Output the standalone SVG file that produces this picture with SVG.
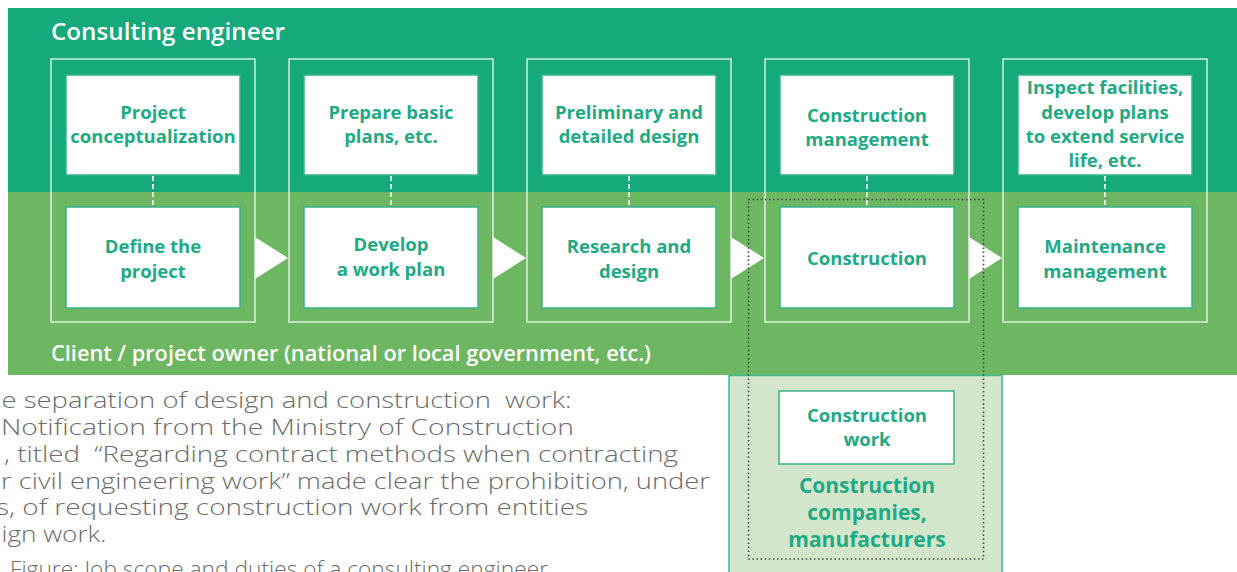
<svg xmlns="http://www.w3.org/2000/svg" width="1237" height="572" viewBox="0 0 1237 572">
<defs>
<style>
.frame{fill:none;stroke:#ffffff;stroke-opacity:0.85;stroke-width:1.4}
.box{fill:#ffffff;stroke:#36B38A;stroke-width:1.5}
.bt{font-family:"Open Sans","Noto Sans",sans-serif;font-weight:700;font-size:18.5px;fill:#1DAA84;text-anchor:middle}
.dash{stroke:#ffffff;stroke-width:1.6;stroke-dasharray:5 3;fill:none}
.tri{fill:#ffffff}
.hdr{font-family:"Open Sans","Noto Sans",sans-serif;font-weight:600;fill:#ffffff}
.body{font-family:"Open Sans","Noto Sans",sans-serif;font-weight:300;font-size:21.5px;fill:#6b6b6b}
.comp{font-family:"Open Sans","Noto Sans",sans-serif;font-weight:700;font-size:21px;fill:#1DAA84;text-anchor:middle}
</style>
</defs>
<g id="bands">
<rect x="8" y="8" width="1229" height="184" fill="#16A97B"/>
<rect x="8" y="192" width="1229" height="183" fill="#6DB662"/>
<text class="hdr" x="51" y="40" font-size="24" textLength="234" lengthAdjust="spacingAndGlyphs">Consulting engineer</text>
<text class="hdr" x="51" y="361" font-size="21.5" font-weight="500" textLength="600" lengthAdjust="spacingAndGlyphs">Client / project owner (national or local government, etc.)</text>
</g>
<g id="companies">
<rect x="729" y="375.5" width="273" height="210" fill="#D3E6CB" stroke="#3DB88F" stroke-width="1.5"/>
<text class="comp" x="867" y="493">Construction</text>
<text class="comp" x="867" y="520">companies,</text>
<text class="comp" x="867" y="547">manufacturers</text>
</g>
<g id="frames">
<rect class="frame" x="51" y="59" width="204" height="263"/>
<rect class="frame" x="289" y="59" width="204" height="263"/>
<rect class="frame" x="527" y="59" width="204" height="263"/>
<rect class="frame" x="765" y="59" width="204" height="263"/>
<rect class="frame" x="1003" y="59" width="204" height="263"/>
</g>
<g id="connectors">
<line class="dash" x1="153" y1="176" x2="153" y2="207"/>
<line class="dash" x1="391" y1="176" x2="391" y2="207"/>
<line class="dash" x1="629" y1="176" x2="629" y2="207"/>
<line class="dash" x1="867" y1="176" x2="867" y2="207"/>
<line class="dash" x1="1105" y1="176" x2="1105" y2="207"/>
<polygon class="tri" points="255,237 288,258 255,279"/>
<polygon class="tri" points="493,237 526,258 493,279"/>
<polygon class="tri" points="731,237 764,258 731,279"/>
<polygon class="tri" points="969,237 1002,258 969,279"/>
<rect x="748.5" y="199.5" width="235" height="359.5" fill="none" stroke="#444" stroke-width="1.6" stroke-dasharray="1.5 2.6"/>
</g>
<g id="n1a"><rect class="box" x="66" y="75" width="174" height="100"/><text class="bt" x="153" y="119">Project</text><text class="bt" x="153" y="143">conceptualization</text></g>
<g id="n1b"><rect class="box" x="66" y="207" width="174" height="101"/><text class="bt" x="153" y="253">Define the</text><text class="bt" x="153" y="278">project</text></g>
<g id="n2a"><rect class="box" x="304" y="75" width="174" height="100"/><text class="bt" x="391" y="119">Prepare basic</text><text class="bt" x="391" y="143">plans, etc.</text></g>
<g id="n2b"><rect class="box" x="304" y="207" width="174" height="101"/><text class="bt" x="391" y="251">Develop</text><text class="bt" x="391" y="276">a work plan</text></g>
<g id="n3a"><rect class="box" x="542" y="75" width="174" height="100"/><text class="bt" x="629" y="119">Preliminary and</text><text class="bt" x="629" y="143">detailed design</text></g>
<g id="n3b"><rect class="box" x="542" y="207" width="174" height="101"/><text class="bt" x="629" y="253">Research and</text><text class="bt" x="629" y="278">design</text></g>
<g id="n4a"><rect class="box" x="780" y="75" width="174" height="100"/><text class="bt" x="867" y="122">Construction</text><text class="bt" x="867" y="146">management</text></g>
<g id="n4b"><rect class="box" x="780" y="207" width="174" height="101"/><text class="bt" x="867" y="265">Construction</text></g>
<g id="n5a"><rect class="box" x="1018" y="75" width="174" height="100"/><text class="bt" x="1105" y="94">Inspect facilities,</text><text class="bt" x="1105" y="119">develop plans</text><text class="bt" x="1105" y="143">to extend service</text><text class="bt" x="1105" y="167">life, etc.</text></g>
<g id="n5b"><rect class="box" x="1018" y="207" width="174" height="101"/><text class="bt" x="1105" y="253">Maintenance</text><text class="bt" x="1105" y="278">management</text></g>
<g id="n6"><rect class="box" x="779" y="391" width="175" height="73"/><text class="bt" x="867" y="422">Construction</text><text class="bt" x="867" y="446">work</text></g>
<g id="bodytext">
<text class="body" xml:space="preserve" x="1.5" y="408" textLength="570" lengthAdjust="spacingAndGlyphs">e separation of design and construction  work:</text>
<text class="body" x="1" y="435" textLength="573" lengthAdjust="spacingAndGlyphs">Notification from the Ministry of Construction</text>
<text class="body" xml:space="preserve" x="4" y="461.5" textLength="674" lengthAdjust="spacingAndGlyphs">, titled  “Regarding contract methods when contracting</text>
<text class="body" x="1" y="488.5" textLength="709" lengthAdjust="spacingAndGlyphs">r civil engineering work” made clear the prohibition, under</text>
<text class="body" x="-4" y="515" textLength="592" lengthAdjust="spacingAndGlyphs">s, of requesting construction work from entities</text>
<text class="body" x="1.5" y="541.5" textLength="105" lengthAdjust="spacingAndGlyphs">ign work.</text>
<text class="body" x="10" y="577" font-size="19" fill="#444" textLength="538" lengthAdjust="spacingAndGlyphs">Figure: Job scope and duties of a consulting engineer</text>
</g>
</svg>
